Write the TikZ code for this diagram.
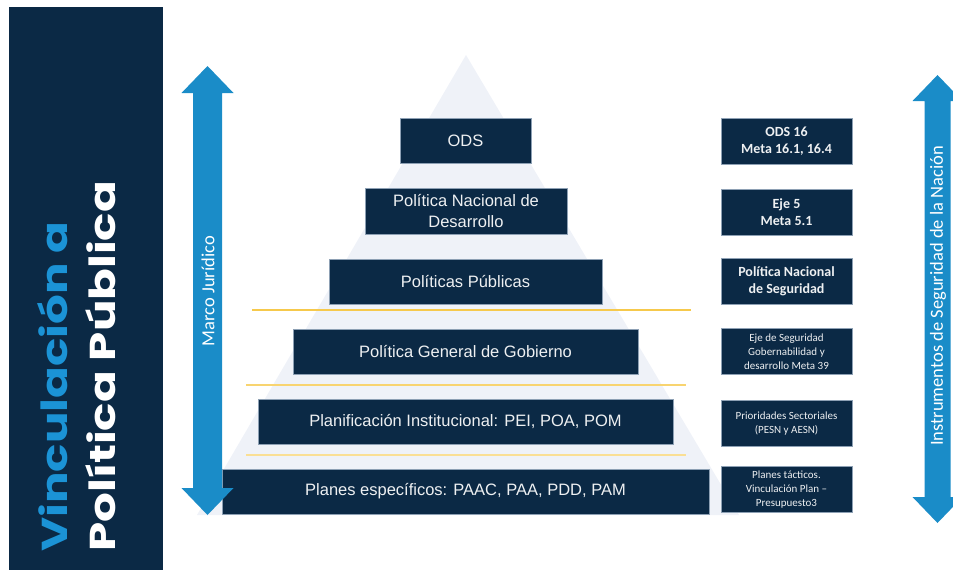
\documentclass[tikz,border=0pt]{standalone}
\usepackage{fontspec}
\setmainfont{Liberation Sans}
\newfontfamily\calib{Carlito}
\newfontfamily\titlefont{Poppins}

\definecolor{navy}{HTML}{0B2945}
\definecolor{borde}{HTML}{8DA0B4}
\definecolor{flecha}{HTML}{1A8CC8}
\definecolor{azultitulo}{HTML}{1B93D6}
\definecolor{piramide}{HTML}{EFF2F8}
\definecolor{linea}{HTML}{F6C94C}

\tikzset{
  nivel/.style={draw=borde, line width=.6pt, fill=navy, text=white!93!navy,
    font=\fontsize{16.5}{21}\selectfont, align=center, minimum height=45pt, inner sep=0pt},
  meta/.style={draw=borde, line width=.6pt, fill=navy, text=white!93!navy,
    align=center, minimum width=131pt, minimum height=46pt, inner sep=0pt},
  metabig/.style={meta, font=\calib\bfseries\fontsize{14}{17}\selectfont},
  metasmall/.style={meta, font=\calib\fontsize{11}{13.8}\selectfont},
  titulo/.style={rotate=90, inner sep=0pt, font=\titlefont\bfseries\fontsize{36}{40}\selectfont},
  etiqueta/.style={rotate=90, inner sep=0pt, text=white, font=\calib\fontsize{18.5}{22}\selectfont},
  franja/.style={draw=linea, line width=1.3pt}
}

\begin{document}
\begin{tikzpicture}[x=1pt,y=-1pt]
\useasboundingbox (0,0) rectangle (953,570);
\clip (0,0) rectangle (953,570);

% panel del titulo
\fill[navy] (9,7) rectangle (163,570);
\node[titulo, text=azultitulo, anchor=base west] (vinc) at (67,552) {\scalebox{1.3}[1]{Vinculación a}};
\node[titulo, text=white, anchor=base west] (polpub) at (115,552) {\scalebox{1.3}[1]{Política Pública}};

% piramide
\fill[piramide] (466,55) -- (197,515) -- (739,515) -- cycle;
\draw[franja] (252,310) -- (691,310);
\draw[franja, draw=linea!80!white, line width=1.2pt] (246,385) -- (686,385);
\draw[franja, draw=linea!60!white, line width=1.2pt] (246,455) -- (686,455);

\node[nivel, minimum width=131pt] (ods) at (465.5,141) {ODS};
\node[nivel, minimum width=202pt, minimum height=46pt] (pnd) at (466,211) {Política Nacional de\\Desarrollo};
\node[nivel, minimum width=273pt] (pp) at (465.5,281.5) {Políticas Públicas};
\node[nivel, minimum width=345pt] (pgg) at (465.5,351.5) {Política General de Gobierno};
\node[nivel, minimum width=415pt] (pi) at (465.5,421.5) {Planificación Institucional: PEI, POA, POM};
\node[nivel, minimum width=487pt] (pe) at (465.5,491.5) {Planes específicos: PAAC, PAA, PDD, PAM};

% vinculos a la derecha
\node[metabig] (m1) at (786.5,141) {ODS 16\\Meta 16.1, 16.4};
\node[metabig] (m2) at (786.5,212) {Eje 5\\Meta 5.1};
\node[metabig] (m3) at (786.5,281.5) {Política Nacional\\de Seguridad};
\node[metasmall] (m4) at (786.5,351.5) {Eje de Seguridad\\Gobernabilidad y\\desarrollo Meta 39};
\node[metasmall] (m5) at (786.5,423.5) {Prioridades Sectoriales\\(PESN y AESN)};
\node[metasmall] (m6) at (786.5,489.5) {Planes tácticos.\\Vinculación Plan –\\Presupuesto3};

% flechas
\fill[flecha] (207.5,66) -- (233.5,93) -- (222,93) -- (222,488) -- (233.5,488) -- (207.5,515)
  -- (181.5,488) -- (193,488) -- (193,93) -- (181.5,93) -- cycle;
\node[etiqueta] (marco) at (208,291) {Marco Jurídico};

\fill[flecha] (937.5,75) -- (962.5,101) -- (950.5,101) -- (950.5,497) -- (962.5,497) -- (937.5,523)
  -- (912.5,497) -- (924.5,497) -- (924.5,101) -- (912.5,101) -- cycle;
\node[etiqueta] (instr) at (938,296) {Instrumentos de Seguridad de la Nación};
\end{tikzpicture}
\end{document}
